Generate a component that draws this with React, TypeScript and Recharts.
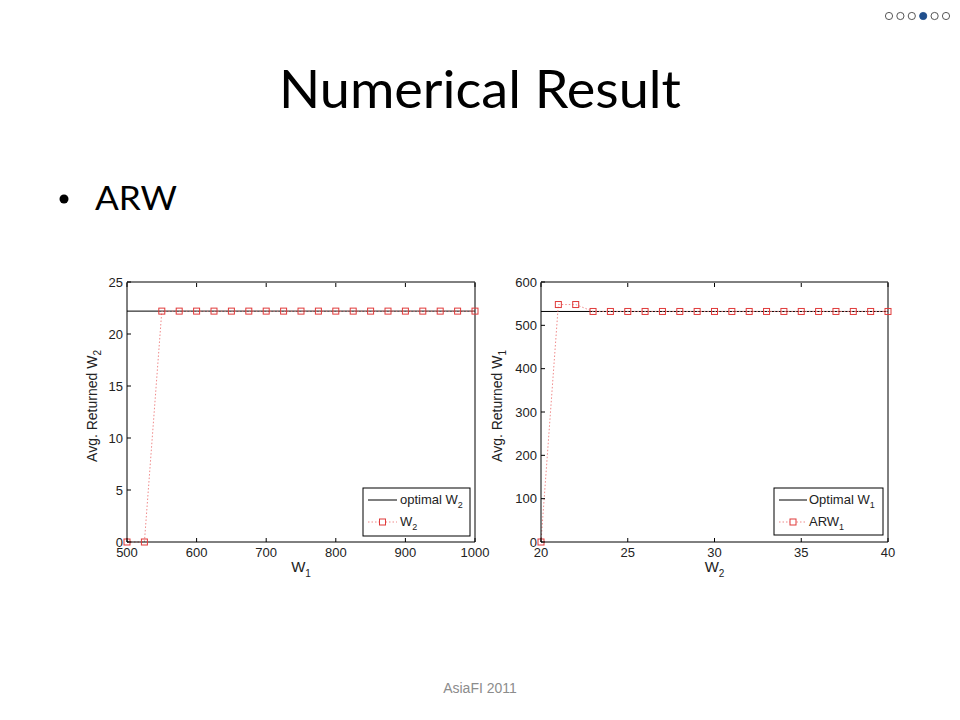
import React from 'react';
import { LineChart, Line, XAxis, YAxis, ReferenceLine } from 'recharts';

// ---------- Data ----------
const W1_VALUES = [500, 525, 550, 575, 600, 625, 650, 675, 700, 725, 750, 775, 800, 825, 850, 875, 900, 925, 950, 975, 1000];
const RETURNED_W2 = [0, 0, 22.2, 22.2, 22.2, 22.2, 22.2, 22.2, 22.2, 22.2, 22.2, 22.2, 22.2, 22.2, 22.2, 22.2, 22.2, 22.2, 22.2, 22.2, 22.2];
const OPTIMAL_W2 = 22.2;
const W1_TICKS = [500, 600, 700, 800, 900, 1000];
const RET_W2_TICKS = [0, 5, 10, 15, 20, 25];

const W2_VALUES = [20, 21, 22, 23, 24, 25, 26, 27, 28, 29, 30, 31, 32, 33, 34, 35, 36, 37, 38, 39, 40];
const RETURNED_W1 = [0, 548, 548, 532, 532, 532, 532, 532, 532, 532, 532, 532, 532, 532, 532, 532, 532, 532, 532, 532, 532];
const OPTIMAL_W1 = 532;
const W2_TICKS = [20, 25, 30, 35, 40];
const RET_W1_TICKS = [0, 100, 200, 300, 400, 500, 600];

const leftData = W1_VALUES.map((w, i) => ({ x: w, v: RETURNED_W2[i] }));
const rightData = W2_VALUES.map((w, i) => ({ x: w, v: RETURNED_W1[i] }));

// ---------- Styles ----------
const FONT = '"Liberation Sans", Arial, Helvetica, sans-serif';
const TITLE_FONT = 'Lato, "Open Sans", sans-serif';
const RED = '#e03a3a';
const LINE_RED = '#f08a8a';
const TEXT = '#222';
const TL = 4;

const BottomTick = (p: any) => (
  <g>
    <line x1={p.x} x2={p.x} y1={p.y} y2={p.y - TL} stroke="#000" strokeWidth={1} />
    <text x={p.x} y={p.y + 15} textAnchor="middle" fontSize={13} fill={TEXT} fontFamily={FONT}>
      {p.payload.value}
    </text>
  </g>
);
// top axis occupies 1px; p.y is 1px above the plot top
const TopTick = (p: any) => (
  <line x1={p.x} x2={p.x} y1={p.y + 1} y2={p.y + 1 + TL} stroke="#000" strokeWidth={1} />
);
const LeftTick = (p: any) => (
  <g>
    <line x1={p.x} x2={p.x + TL} y1={p.y} y2={p.y} stroke="#000" strokeWidth={1} />
    <text x={p.x - 4} y={p.y + 4.5} textAnchor="end" fontSize={13} fill={TEXT} fontFamily={FONT}>
      {p.payload.value}
    </text>
  </g>
);
// right axis occupies 1px; p.x is 1px right of plot right edge
const RightTick = (p: any) => (
  <line x1={p.x - 1} x2={p.x - 1 - TL} y1={p.y} y2={p.y} stroke="#000" strokeWidth={1} />
);

const SquareDot = (p: any) => (
  <rect
    key={`d-${p.index}`}
    x={p.cx - 3}
    y={p.cy - 3}
    width={6}
    height={6}
    fill="none"
    stroke={RED}
    strokeWidth={1}
  />
);

const yLabel = (main: string, sub: string, dx: number) => (props: any) => {
  const vb = props.viewBox || {};
  const cx = vb.x + dx;
  const cy = vb.y + vb.height / 2 - 6;
  return (
    <text
      transform={`rotate(-90 ${cx} ${cy})`}
      x={cx}
      y={cy}
      textAnchor="middle"
      fontSize={14}
      fill={TEXT}
      fontFamily={FONT}
    >
      {main}
      <tspan fontSize={10} dy={4}>{sub}</tspan>
    </text>
  );
};

const xLabel = (main: string, sub: string) => (props: any) => {
  const vb = props.viewBox || {};
  const cx = vb.x + vb.width / 2;
  const cy = vb.y + 30;
  return (
    <text x={cx} y={cy} textAnchor="middle" fontSize={15} fill={TEXT} fontFamily={FONT}>
      {main}
      <tspan fontSize={10} dy={5}>{sub}</tspan>
    </text>
  );
};

type PanelProps = {
  data: { x: number; v: number }[];
  xDomain: [number, number];
  xTicks: number[];
  yDomain: [number, number];
  yTicks: number[];
  optimal: number;
  yMain: string;
  ySub: string;
  xMain: string;
  xSub: string;
  left: number;
  top: number;
  width: number;
  height: number;
  margin: { top: number; right: number; bottom: number; left: number };
  yAxisWidth: number;
};

const Panel = (P: PanelProps) => (
  <div style={{ position: 'absolute', left: P.left, top: P.top }}>
    <LineChart width={P.width} height={P.height} data={P.data} margin={P.margin}>
      <XAxis
        dataKey="x"
        type="number"
        domain={P.xDomain}
        ticks={P.xTicks}
        interval={0}
        tickSize={0}
        tickMargin={0}
        tick={BottomTick}
        tickLine={false}
        axisLine={{ stroke: '#000' }}
        height={48}
        label={{ content: xLabel(P.xMain, P.xSub) }}
      />
      <XAxis
        xAxisId="top"
        orientation="top"
        dataKey="x"
        type="number"
        domain={P.xDomain}
        ticks={P.xTicks}
        interval={0}
        tickSize={0}
        tickMargin={0}
        tick={TopTick}
        tickLine={false}
        axisLine={false}
        height={1}
      />
      <YAxis
        type="number"
        domain={P.yDomain}
        ticks={P.yTicks}
        interval={0}
        tickSize={0}
        tickMargin={0}
        tick={LeftTick}
        tickLine={false}
        axisLine={{ stroke: '#000' }}
        width={P.yAxisWidth}
        label={{ content: yLabel(P.yMain, P.ySub, 17) }}
      />
      <YAxis
        yAxisId="right"
        orientation="right"
        type="number"
        domain={P.yDomain}
        ticks={P.yTicks}
        interval={0}
        tickSize={0}
        tickMargin={0}
        tick={RightTick}
        tickLine={false}
        axisLine={false}
        width={1}
      />
      <ReferenceLine y={P.optimal} stroke="#000" strokeWidth={1} />
      <ReferenceLine y={P.yDomain[1]} stroke="#000" strokeWidth={1} />
      <ReferenceLine x={P.xDomain[1]} stroke="#000" strokeWidth={1} />
      <Line
        dataKey="v"
        stroke={LINE_RED}
        strokeWidth={1}
        strokeDasharray="1.5 2"
        dot={SquareDot}
        activeDot={false}
        isAnimationActive={false}
      />
    </LineChart>
  </div>
);

const LegendBox = ({ x, y, w, h, l1, s1, l2, s2, lineX1, lineX2, textX }: any) => {
  const mid = (lineX1 + lineX2) / 2;
  return (
    <g>
      <rect x={x} y={y} width={w} height={h} fill="#fff" stroke="#000" strokeWidth={1} />
      <line x1={lineX1} x2={lineX2} y1={y + 12} y2={y + 12} stroke="#000" strokeWidth={1} />
      <text x={textX} y={y + 16} fontSize={13} fill={TEXT} fontFamily={FONT}>
        {l1}
        <tspan fontSize={9} dy={4}>{s1}</tspan>
      </text>
      <line x1={lineX1} x2={lineX2} y1={y + 34} y2={y + 34} stroke={LINE_RED} strokeWidth={1} strokeDasharray="1.5 2" />
      <rect x={mid - 3} y={y + 31} width={6} height={6} fill="#fff" stroke={RED} strokeWidth={1} />
      <text x={textX} y={y + 38} fontSize={13} fill={TEXT} fontFamily={FONT}>
        {l2}
        <tspan fontSize={9} dy={4}>{s2}</tspan>
      </text>
    </g>
  );
};

const NAV_DOTS = [0, 0, 0, 1, 0, 0];

export default function App() {
  return (
    <div style={{ position: 'absolute', left: 0, top: 0, width: 960, height: 720, background: '#fff', overflow: 'hidden' }}>
      <Panel
        data={leftData}
        xDomain={[500, 1000]}
        xTicks={W1_TICKS}
        yDomain={[0, 25]}
        yTicks={RET_W2_TICKS}
        optimal={OPTIMAL_W2}
        yMain="Avg. Returned W"
        ySub="2"
        xMain="W"
        xSub="1"
        left={80}
        top={270}
        width={420}
        height={320}
        margin={{ top: 11, right: 24, bottom: 0, left: 0 }}
        yAxisWidth={47}
      />
      <Panel
        data={rightData}
        xDomain={[20, 40]}
        xTicks={W2_TICKS}
        yDomain={[0, 600]}
        yTicks={RET_W1_TICKS}
        optimal={OPTIMAL_W1}
        yMain="Avg. Returned W"
        ySub="1"
        xMain="W"
        xSub="2"
        left={485}
        top={270}
        width={420}
        height={320}
        margin={{ top: 11, right: 16, bottom: 0, left: 0 }}
        yAxisWidth={56}
      />
      <svg width={960} height={720} style={{ position: 'absolute', left: 0, top: 0, pointerEvents: 'none' }}>
        {NAV_DOTS.map((f, i) => (
          <circle
            key={i}
            cx={889 + i * 11.4}
            cy={16}
            r={3.6}
            fill={f ? '#1f4e8c' : '#fff'}
            stroke={f ? '#1f4e8c' : '#444'}
            strokeWidth={0.9}
          />
        ))}
        <text x={480} y={108} textAnchor="middle" fontSize={53} fontFamily={TITLE_FONT} fill="#000" textLength={402} lengthAdjust="spacingAndGlyphs">
          Numerical Result
        </text>
        <circle cx={64} cy={199} r={4.5} fill="#000" />
        <text x={95} y={210} fontSize={32} fontFamily={TITLE_FONT} fill="#000" textLength={82} lengthAdjust="spacingAndGlyphs">
          ARW
        </text>
        <LegendBox x={363} y={488} w={107} h={48} l1="optimal W" s1="2" l2="W" s2="2" lineX1={368} lineX2={397} textX={400} />
        <LegendBox x={774} y={488} w={109} h={47} l1="Optimal W" s1="1" l2="ARW" s2="1" lineX1={779} lineX2={807} textX={809} />
        <text x={480} y={693} textAnchor="middle" fontSize={14} fontFamily={FONT} fill="#8c8c8c">
          AsiaFI 2011
        </text>
      </svg>
    </div>
  );
}
